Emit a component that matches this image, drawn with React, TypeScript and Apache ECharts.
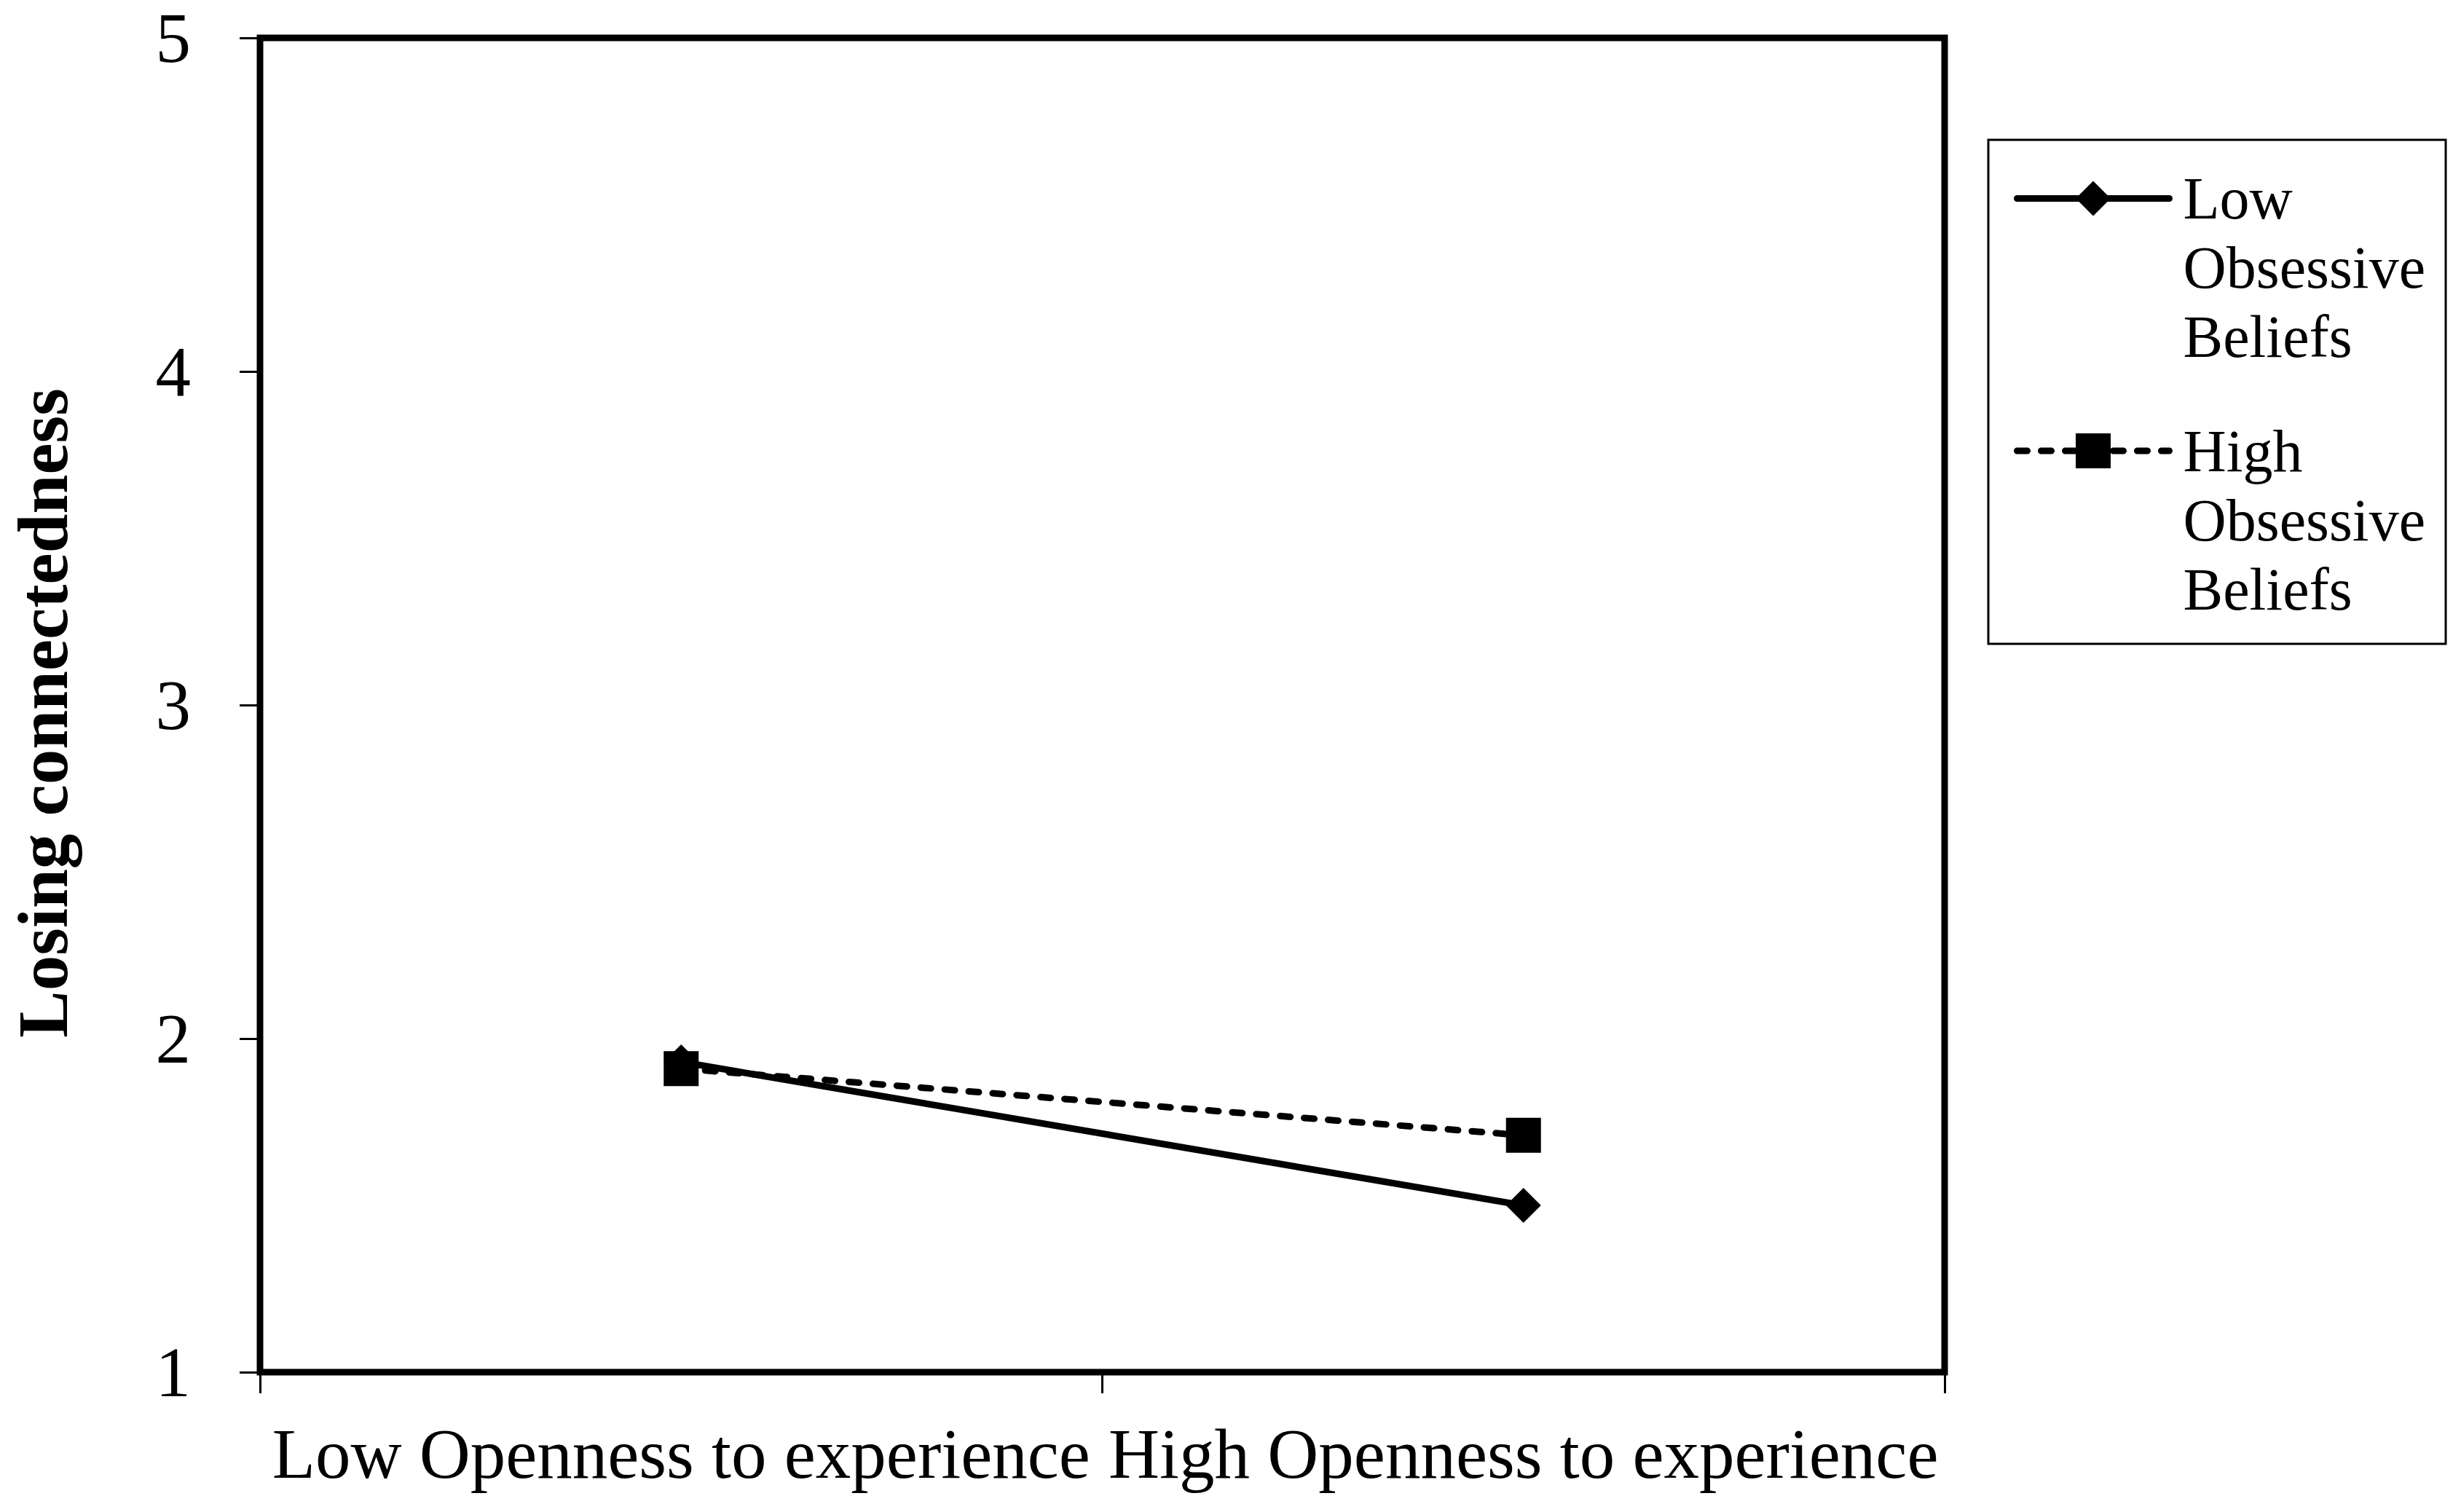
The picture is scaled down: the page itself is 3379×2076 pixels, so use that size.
import React, { useEffect, useRef } from 'react';
import * as echarts from 'echarts';

const categories = ['Low Openness to experience', 'High Openness to experience'];
const seriesNames = ['Low Obsessive Beliefs', 'High Obsessive Beliefs'];
const lowObsessive = [1.93, 1.5];
const highObsessive = [1.91, 1.71];
const yTicks = [1, 2, 3, 4, 5];
const yAxisTitle = 'Losing connectedness';

export default function App() {
  const ref = useRef<HTMLDivElement>(null);
  useEffect(() => {
    const chart = echarts.init(ref.current!, null, { renderer: 'svg' });
    const font = "'Liberation Serif', 'Times New Roman', serif";
    chart.setOption({
      animation: false,
      backgroundColor: '#fff',
      grid: {
        show: true,
        left: 357,
        top: 52,
        width: 2313,
        height: 1832,
        borderColor: '#000',
        borderWidth: 9,
        backgroundColor: 'transparent',
      },
      xAxis: {
        type: 'category',
        data: categories,
        boundaryGap: true,
        axisLine: { show: true, lineStyle: { color: '#000', width: 3 } },
        axisTick: { show: true, length: 29, lineStyle: { color: '#000', width: 3 } },
        axisLabel: {
          interval: 0,
          hideOverlap: false,
          margin: 64,
          fontSize: 97,
          lineHeight: 97,
          fontFamily: font,
          color: '#000',
        },
        splitLine: { show: false },
      },
      yAxis: {
        type: 'value',
        min: yTicks[0],
        max: yTicks[yTicks.length - 1],
        interval: 1,
        axisLine: { show: true, lineStyle: { color: '#000', width: 3 } },
        axisTick: { show: true, length: 28, lineStyle: { color: '#000', width: 3 } },
        axisLabel: {
          margin: 95,
          fontSize: 97,
          fontFamily: font,
          color: '#000',
        },
        splitLine: { show: false },
        name: yAxisTitle,
        nameLocation: 'middle',
        nameRotate: 90,
        nameGap: 249,
        nameTextStyle: {
          fontSize: 97,
          fontWeight: 'bold',
          fontFamily: font,
          color: '#000',
          padding: [0, 22, 0, 0],
        },
      },
      legend: {
        show: true,
        orient: 'vertical',
        left: 2730,
        top: 192,
        padding: [33, 28, 34, 35],
        itemWidth: 209,
        itemHeight: 60,
        itemGap: 68,
        borderColor: '#000',
        borderWidth: 3,
        backgroundColor: '#fff',
        selectedMode: false,
        lineStyle: { width: 9, cap: 'round' },
        formatter: (name: string) =>
          name
            .split(' ')
            .map((w) => `{a|${w}}`)
            .join('\n'),
        textStyle: {
          fontSize: 82,
          lineHeight: 95,
          height: 95,
          fontFamily: font,
          color: '#000',
          padding: [0, 0, 0, 14],
          rich: {
            a: {
              fontSize: 82,
              lineHeight: 95,
              fontFamily: font,
              color: '#000',
            },
          },
        },
        data: seriesNames,
      },
      series: [
        {
          name: seriesNames[0],
          type: 'line',
          data: lowObsessive,
          symbol: 'diamond',
          symbolSize: 48,
          itemStyle: { color: '#000' },
          lineStyle: { color: '#000', width: 9, type: 'solid', cap: 'round' },
          emphasis: { disabled: true },
        },
        {
          name: seriesNames[1],
          type: 'line',
          data: highObsessive,
          symbol: 'rect',
          symbolSize: 48,
          itemStyle: { color: '#000' },
          lineStyle: { color: '#000', width: 9, type: [14, 19], cap: 'round' },
          emphasis: { disabled: true },
        },
      ],
    });
    return () => chart.dispose();
  }, []);
  return (
    <div
      ref={ref}
      style={{ position: 'fixed', left: 0, top: 0, width: 3379, height: 2076, background: '#fff' }}
    />
  );
}
